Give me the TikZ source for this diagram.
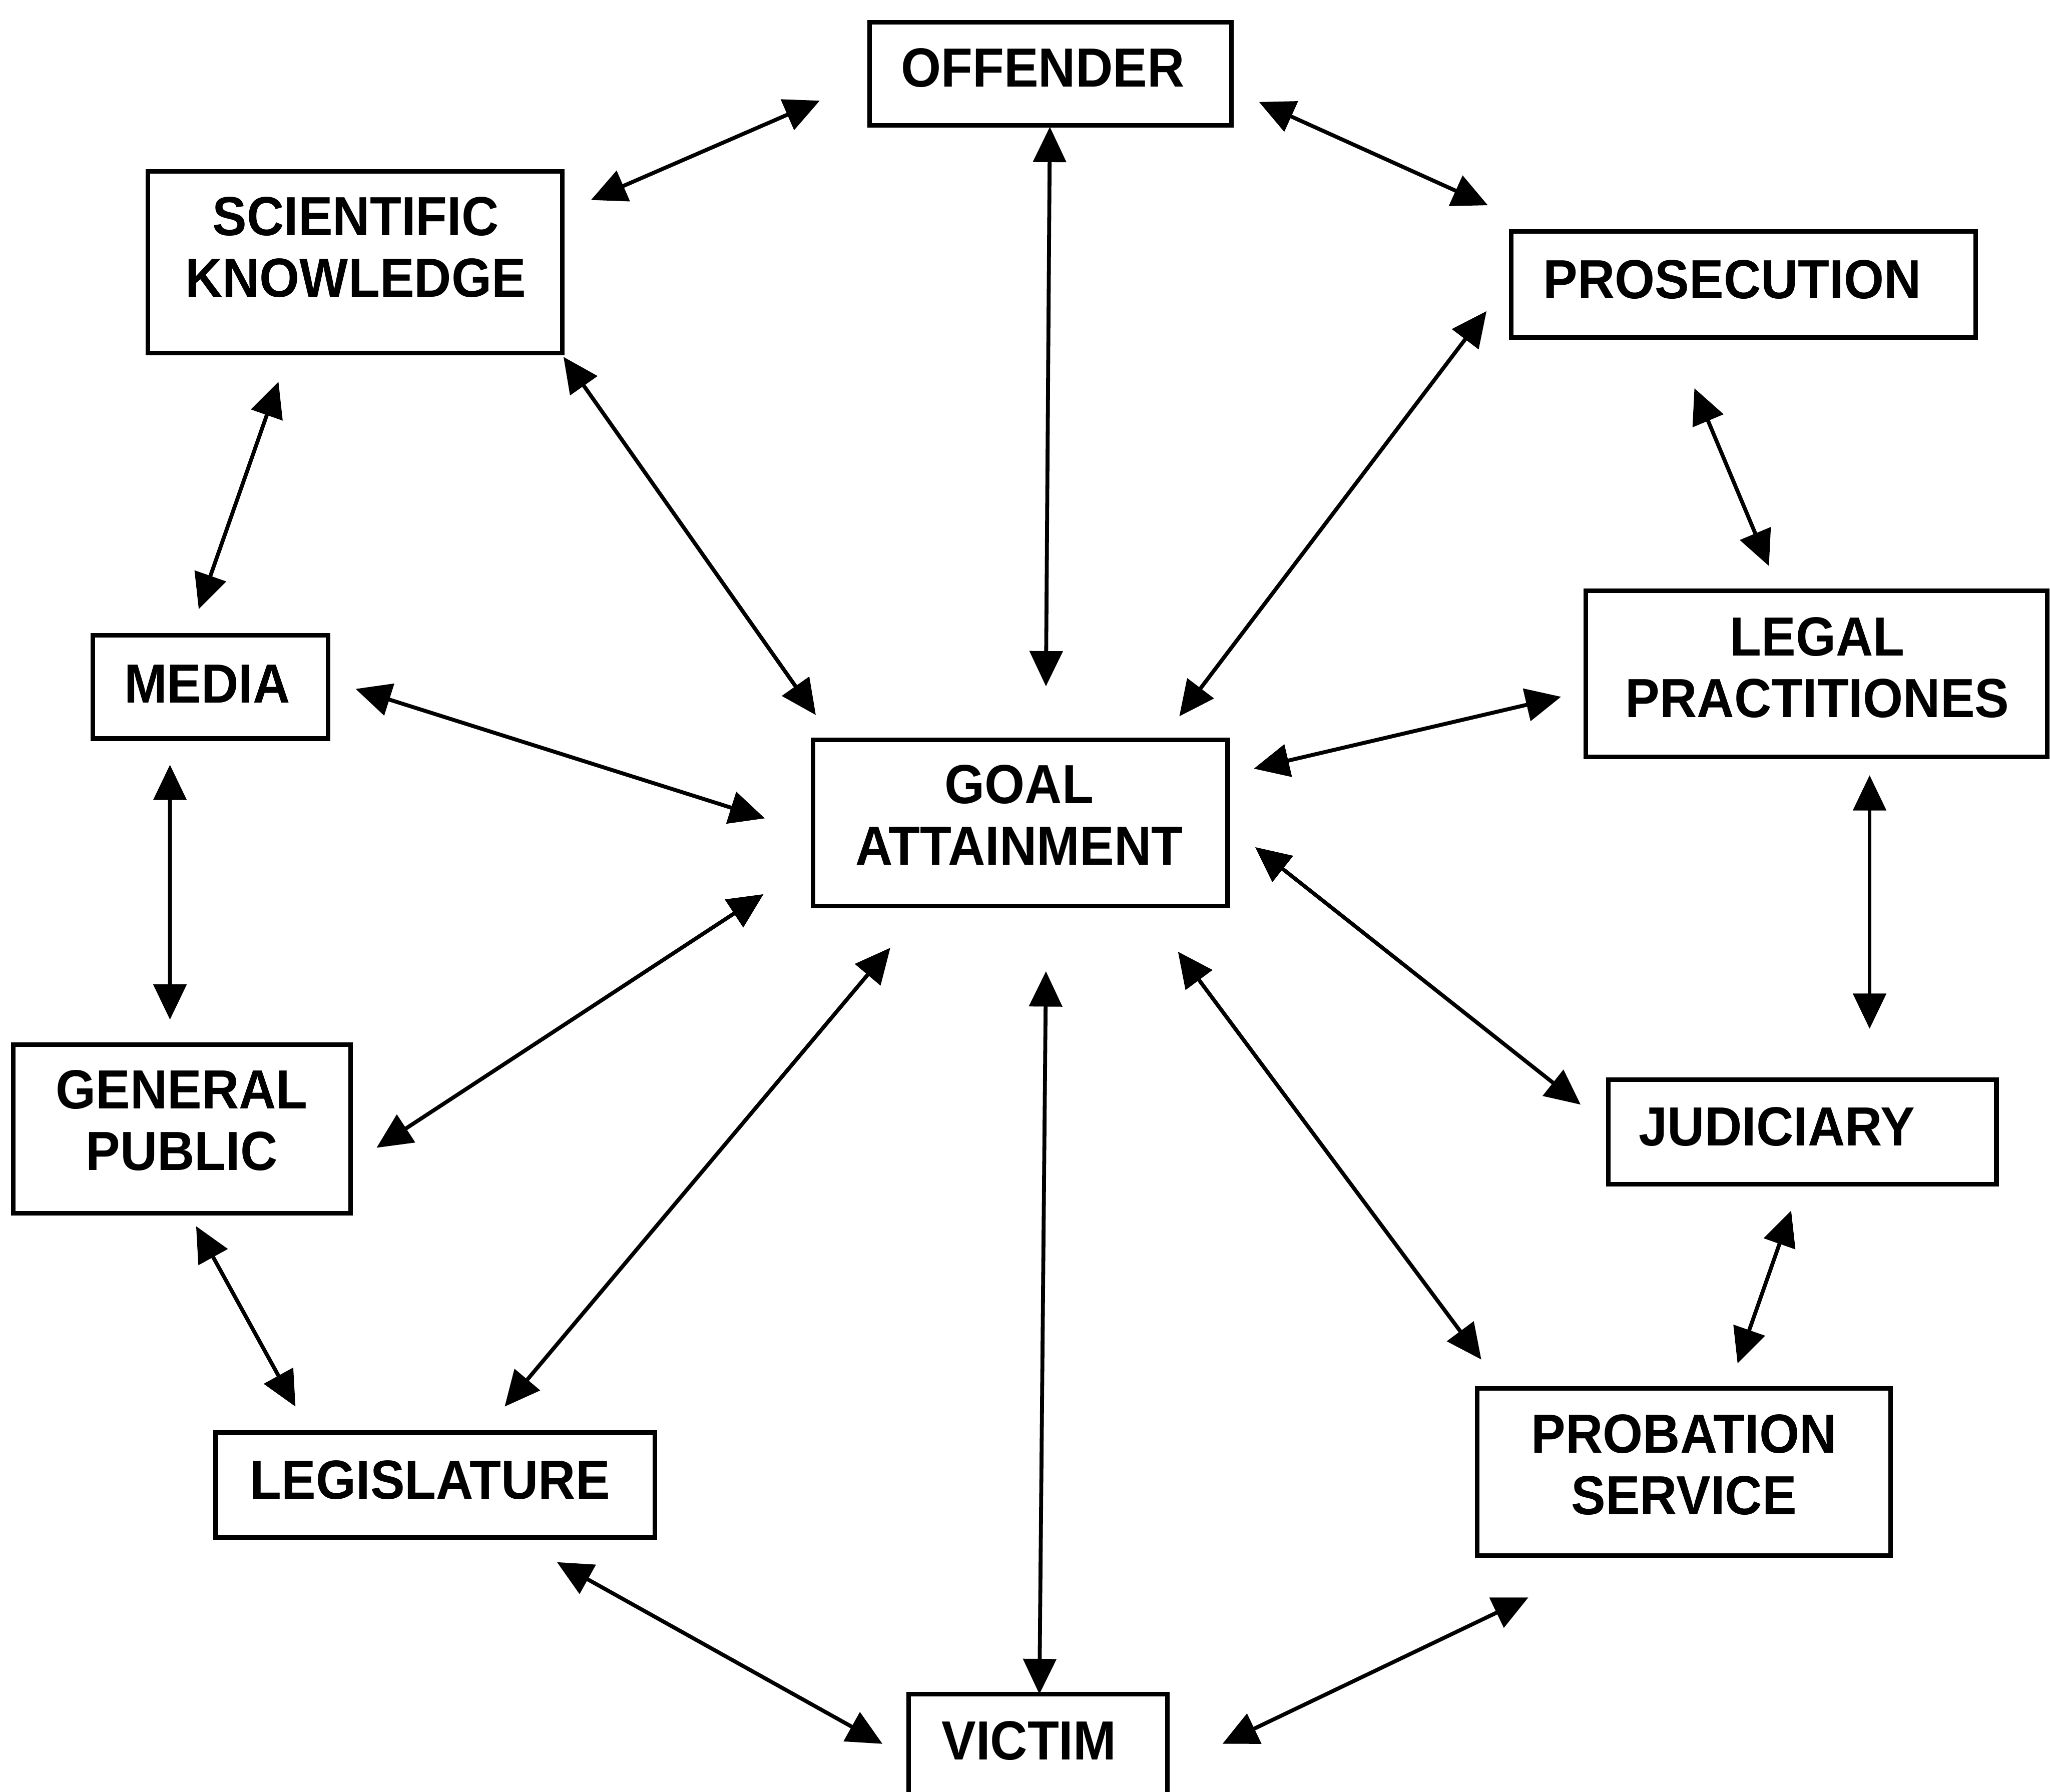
\documentclass[tikz,border=0pt]{standalone}
\usepackage{fontspec}
\newfontfamily\lblfont{Liberation Sans}[FakeStretch=0.935]
\usetikzlibrary{arrows.meta,calc}
\begin{document}
\begin{tikzpicture}[
  box/.style={draw, line width=1pt, inner sep=0pt, outer sep=0pt},
  lbl/.style={font=\lblfont\bfseries\fontsize{12}{13.4}\selectfont, align=center, inner sep=0pt},
  arr/.style={line width=0.85pt, {Triangle[length=0.27cm,width=0.25cm]}-{Triangle[length=0.27cm,width=0.25cm]}},
]
\clip (0,0) rectangle (15.68,-13.705);
% boxes
\node[box, minimum width=2.77cm, minimum height=0.79cm] (off)  at (8.035,-0.565) {};
\node[box, minimum width=3.17cm, minimum height=1.39cm] (sci)  at (2.715,-2.005) {};
\node[box, minimum width=3.55cm, minimum height=0.81cm] (pro)  at (13.335,-2.175) {};
\node[box, minimum width=1.80cm, minimum height=0.79cm] (med)  at (1.61,-5.255) {};
\node[box, minimum width=3.53cm, minimum height=1.27cm] (leg)  at (13.895,-5.155) {};
\node[box, minimum width=3.17cm, minimum height=1.27cm] (goal) at (7.805,-6.295) {};
\node[box, minimum width=2.58cm, minimum height=1.29cm] (gen)  at (1.39,-8.635) {};
\node[box, minimum width=2.97cm, minimum height=0.80cm] (jud)  at (13.785,-8.66) {};
\node[box, minimum width=3.36cm, minimum height=0.80cm] (lgs)  at (3.33,-11.36) {};
\node[box, minimum width=3.16cm, minimum height=1.28cm] (prob) at (12.88,-11.26) {};
\node[box, minimum width=1.98cm, minimum height=1.28cm] (vic)  at (7.94,-13.60) {};
% labels
\node[lbl] (off-t)  at (7.975,-0.52)  {OFFENDER};
\node[lbl] (sci-t)  at (2.72,-1.89)   {SCIENTIFIC\\KNOWLEDGE};
\node[lbl] (pro-t)  at (13.25,-2.14)  {PROSECUTION};
\node[lbl] (med-t)  at (1.585,-5.23)  {MEDIA};
\node[lbl] (leg-t)  at (13.90,-5.105) {LEGAL\\PRACTITIONES};
\node[lbl] (goal-t) at (7.795,-6.235) {GOAL\\ATTAINMENT};
\node[lbl] (gen-t)  at (1.39,-8.57)   {GENERAL\\PUBLIC};
\node[lbl] (jud-t)  at (13.59,-8.62)  {JUDICIARY};
\node[lbl] (lgs-t)  at (3.29,-11.32)  {LEGISLATURE};
\node[lbl] (prob-t) at (12.88,-11.205){PROBATION\\SERVICE};
\node[lbl] (vic-t)  at (7.87,-13.315) {VICTIM};
% connectors
\draw[arr] ($(off)+(-1.765,-0.205)$) -- ($(sci)+(1.805,0.475)$);
\draw[arr] ($(off)+(1.595,-0.215)$)  -- ($(pro)+(-1.955,0.605)$);
\draw[arr] ($(off)+(-0.005,-0.405)$) -- ($(goal)+(0.195,1.045)$);
\draw[arr] ($(sci)+(1.595,-0.725)$)  -- ($(goal)+(-1.565,0.825)$);
\draw[arr] ($(pro)+(-1.965,-0.205)$) -- ($(goal)+(1.215,0.815)$);
\draw[arr] ($(sci)+(-0.585,-0.915)$) -- ($(med)+(-0.09,0.595)$);
\draw[arr] ($(pro)+(-0.375,-0.795)$) -- ($(leg)+(-0.365,0.825)$);
\draw[arr] ($(med)+(1.11,-0.015)$)   -- ($(goal)+(-1.955,0.035)$);
\draw[arr] ($(leg)+(-1.955,-0.175)$) -- ($(goal)+(1.785,0.415)$);
\draw[arr] ($(med)+(-0.31,-0.595)$)  -- ($(gen)+(-0.09,0.835)$);
\draw[arr] ($(leg)+(0.405,-0.775)$)  -- ($(jud)+(0.515,0.79)$);
\draw[arr] ($(goal)+(-1.965,-0.545)$) -- ($(gen)+(1.49,-0.145)$);
\draw[arr] ($(goal)+(1.795,-0.185)$) -- ($(jud)+(-1.695,0.21)$);
\draw[arr] ($(goal)+(-0.995,-0.955)$) -- ($(lgs)+(0.53,0.60)$);
\draw[arr] ($(goal)+(0.195,-1.135)$) -- ($(vic)+(0.01,0.64)$);
\draw[arr] ($(goal)+(1.205,-0.985)$) -- ($(prob)+(-1.55,0.86)$);
\draw[arr] ($(gen)+(0.11,-0.745)$)   -- ($(lgs)+(-1.07,0.60)$);
\draw[arr] ($(jud)+(-0.085,-0.60)$)  -- ($(prob)+(0.41,0.83)$);
\draw[arr] ($(lgs)+(0.93,-0.59)$)    -- ($(vic)+(-1.19,0.26)$);
\draw[arr] ($(prob)+(-1.19,-0.96)$)  -- ($(vic)+(1.41,0.26)$);
\end{tikzpicture}
\end{document}
